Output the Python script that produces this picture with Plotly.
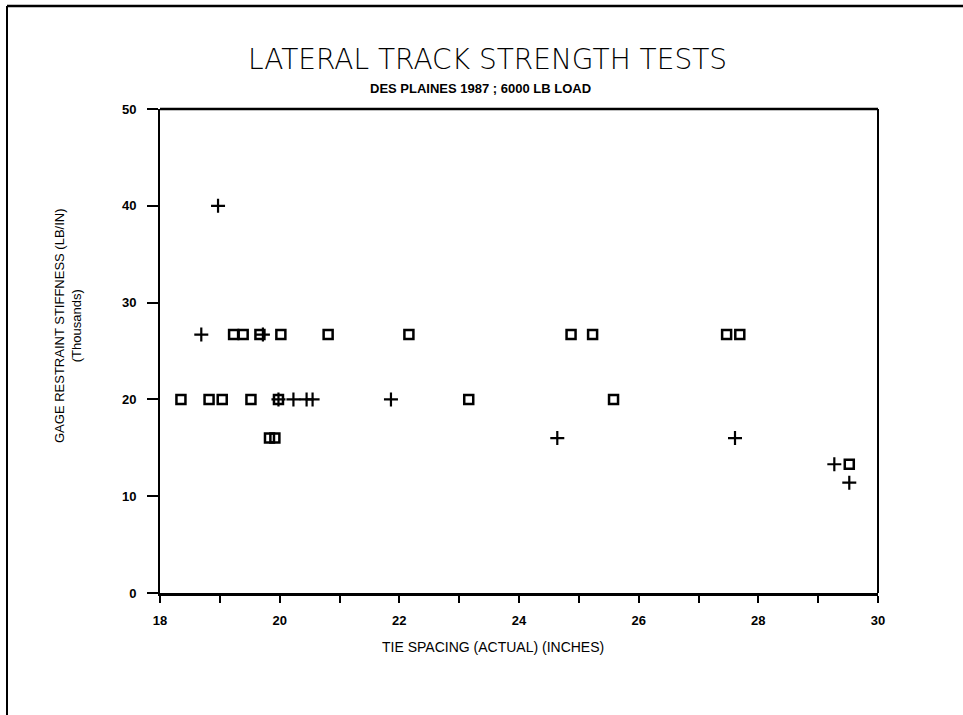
import plotly.graph_objects as go

# ---- data ----
square_x = [18.35, 18.82, 19.04, 19.52, 19.98, 23.16, 25.58,
            19.23, 19.39, 19.67, 20.02, 20.81, 22.16, 24.87, 25.23, 27.47, 27.69,
            19.83, 19.92, 29.52]
square_y = [20, 20, 20, 20, 20, 20, 20,
            26.7, 26.7, 26.7, 26.7, 26.7, 26.7, 26.7, 26.7, 26.7, 26.7,
            16, 16, 13.3]

plus_x = [18.97, 18.69, 19.72, 19.98, 20.23, 20.45, 20.55, 21.86, 24.64, 27.61, 29.27, 29.52]
plus_y = [40, 26.7, 26.7, 20, 20, 20, 20, 20, 16, 16, 13.3, 11.4]

x_tickvals = list(range(18, 31))
x_ticktext = ["18", "", "20", "", "22", "", "24", "", "26", "", "28", "", "30"]
y_tickvals = [0, 10, 20, 30, 40, 50]
y_ticktext = ["0", "10", "20", "30", "40", "50"]

title_text = "LATERAL TRACK STRENGTH TESTS"
subtitle_text = "DES PLAINES 1987 ; 6000 LB LOAD"
x_title = "TIE SPACING (ACTUAL) (INCHES)"
y_title = "GAGE RESTRAINT STIFFNESS (LB/IN)<br>(Thousands)"

# ---- layout geometry (pixels) ----
W, H = 963, 715
L, R, T, B = 160, 85, 109, 122
pw, ph = W - L - R, H - T - B


def px(xp):
    return (xp - L) / pw


def py(yp):
    return (H - B - yp) / ph


fig = go.Figure()
fig.add_trace(go.Scatter(
    x=square_x, y=square_y, mode="markers", name="squares",
    marker=dict(symbol="square-open", size=9, color="black",
                line=dict(color="black", width=2.5)),
    showlegend=False, cliponaxis=False))
fig.add_trace(go.Scatter(
    x=plus_x, y=plus_y, mode="markers", name="plus",
    marker=dict(symbol="cross-thin-open", size=10, color="black",
                line=dict(color="black", width=2.2)),
    showlegend=False, cliponaxis=False))

tickfont = dict(family="Liberation Sans", size=13, color="black", weight="bold")

fig.update_layout(
    width=W, height=H,
    margin=dict(l=L, r=R, t=T, b=B),
    paper_bgcolor="white", plot_bgcolor="white",
    font=dict(family="Liberation Sans", color="black"),
    xaxis=dict(range=[18, 30], tickvals=x_tickvals, ticktext=x_ticktext,
               showgrid=False, zeroline=False, showline=True, linecolor="black",
               linewidth=3, mirror=False, ticks="outside", ticklen=7, tickwidth=1.5,
               tickcolor="black", tickfont=tickfont, ticklabelstandoff=6),
    yaxis=dict(range=[0, 50], tickvals=y_tickvals, ticktext=y_ticktext,
               showgrid=False, zeroline=False, showline=True, linecolor="black",
               linewidth=2, mirror=False, ticks="outside", ticklen=11, tickwidth=1.5,
               tickcolor="black", tickfont=tickfont, ticklabelstandoff=8),
)

# plot frame top & right
fig.add_shape(type="line", xref="paper", yref="paper", x0=0, x1=1, y0=1, y1=1,
              line=dict(color="black", width=2.5))
fig.add_shape(type="line", xref="paper", yref="paper", x0=1, x1=1, y0=0, y1=1,
              line=dict(color="black", width=2))
# outer page border (top and left edges)
fig.add_shape(type="line", xref="paper", yref="paper", x0=px(7), x1=px(W + 2),
              y0=py(6), y1=py(6), line=dict(color="black", width=2.5))
fig.add_shape(type="line", xref="paper", yref="paper", x0=px(7), x1=px(7),
              y0=py(6), y1=py(H + 2), line=dict(color="black", width=2))


def label(text, xp, yp, size, angle=0, weight="normal", family="Liberation Sans"):
    fig.add_annotation(text=text, xref="paper", yref="paper", x=px(xp), y=py(yp),
                       xanchor="center", yanchor="middle", showarrow=False,
                       textangle=angle,
                       font=dict(family=family, size=size, color="black",
                                 weight=weight))


label(title_text, 487, 60, 28, family="DejaVu Sans", weight=200)
label(subtitle_text, 480, 89, 13, weight="bold")
label(x_title, 493, 647, 14)
label(y_title, 68, 326, 13, angle=-90)

fig.write_html("out.html")
